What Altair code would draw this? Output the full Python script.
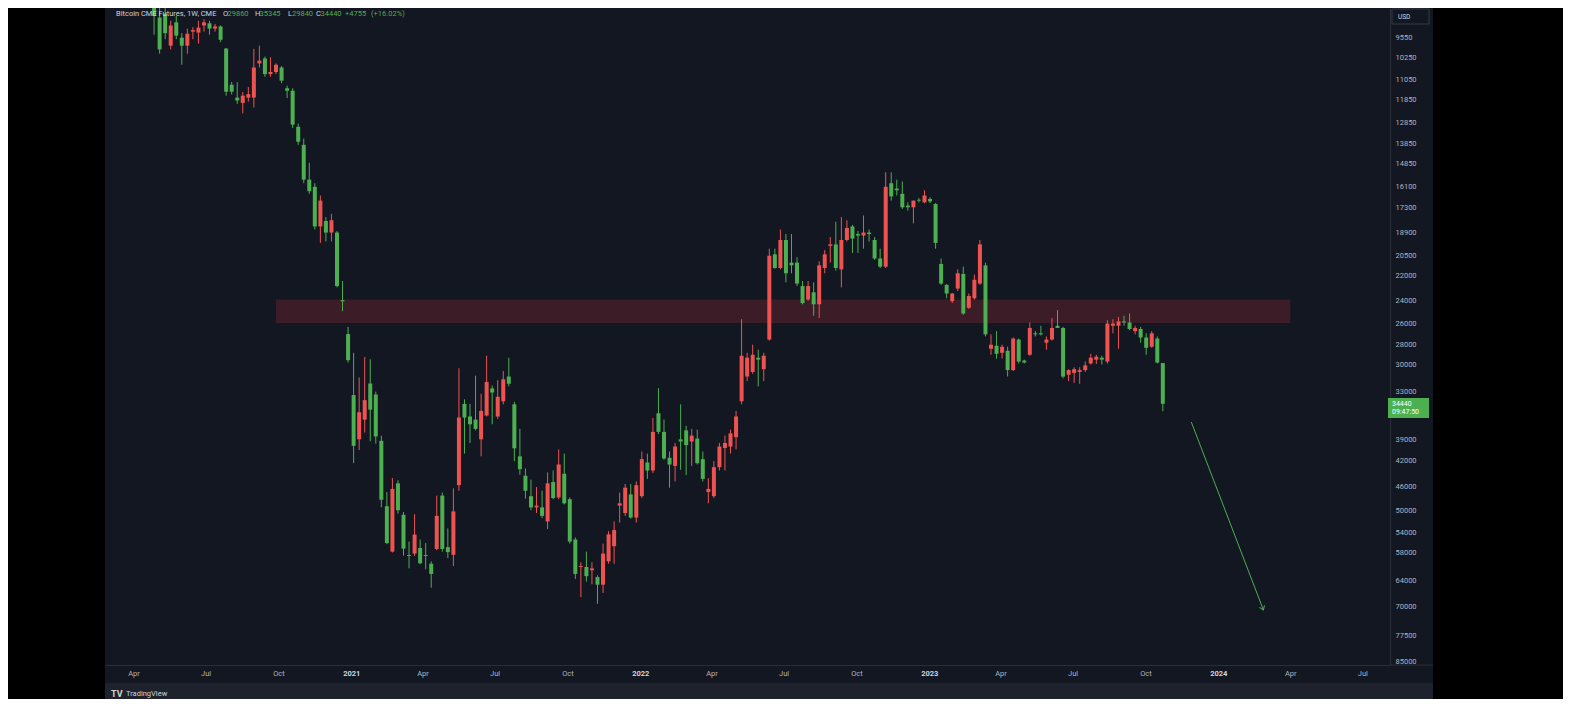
import altair as alt
import pandas as pd

BG = "#131722"
GREEN = "#4caf50"
RED = "#ef5350"
LINE = "#2a2e39"
TXT = "#b2b5be"
TXT_HI = "#d1d4dc"
FONT = "Roboto"

# ---- weekly OHLC (Bitcoin CME futures, 1W) ----
OPEN_2020 = [7750, 8900, 8780, 9820, 9050, 9550, 9820, 9350, 9380, 9150, 9080, 9250, 9180, 9920,
             11260, 11780, 12000, 11780, 11780, 10450, 10270, 10850, 10770, 10600, 11400, 11500,
             13050, 13900, 15700, 16100, 18500, 18150, 18900, 18900, 23950, 26970]
HIGH_2020 = [9450, 10100, 9600, 9950, 9600, 10500, 10100, 9600, 9750, 9350, 9450, 9350, 9700, 11700,
             11650, 12040, 12450, 11950, 12200, 10600, 10950, 10950, 10850, 11200, 11800, 13100,
             13900, 15900, 16500, 18700, 19600, 19500, 19500, 22900, 24900, 29800]
LOW_2020 = [7700, 8600, 8300, 9000, 8850, 9400, 9250, 9200, 9000, 8950, 9000, 9100, 9150, 9900,
            11150, 11160, 11550, 11350, 9930, 9820, 10200, 10230, 10450, 10550, 11300, 11400,
            12900, 13600, 14800, 15900, 16600, 17900, 17700, 18800, 22400, 26300]
CLOSE_2020 = [8850, 9950, 9400, 9150, 9480, 9820, 9420, 9300, 9220, 9050, 9250, 9180, 9620, 11540,
              11540, 11900, 11700, 11640, 10600, 10350, 10850, 10770, 10500, 11100, 11500, 12950,
              13750, 15700, 16350, 18500, 16900, 18900, 18100, 22800, 24050, 29560]

OPEN_2021 = [33400, 39000, 36400, 32070, 33340, 39200, 49300, 57800, 45500, 50800, 58500, 58200, 57070,
             58500, 60300, 57260, 47500, 56900, 58450, 45790, 34450, 36000, 36400, 39000, 35870, 32630,
             36000, 34130, 31300, 34500, 41400, 44300, 47600, 49500, 49500, 52000, 45300, 47800, 44000,
             48100, 55400, 61000, 61000, 61700, 63200, 64900, 59800, 56700, 49200, 50500, 47300, 51300]
HIGH_2021 = [42400, 40500, 38090, 39280, 39600, 49500, 56300, 58000, 50600, 58600, 61300, 58700, 60400,
             61500, 65600, 57500, 57800, 59100, 60800, 46700, 41000, 39500, 37800, 41400, 36000, 37000,
             36300, 34500, 32400, 42100, 44150, 48000, 50000, 50500, 51400, 53400, 48100, 48100, 49000,
             56200, 63600, 67800, 64200, 64800, 69400, 66800, 60300, 60300, 52200, 51000, 51500, 52200]
LOW_2021 = [28800, 31400, 29230, 29460, 33000, 38500, 46900, 44680, 45000, 50300, 55800, 50700, 55400,
            56100, 59800, 47500, 47000, 53300, 46300, 30400, 33900, 34450, 31200, 33250, 29100, 32300,
            31700, 30700, 29300, 34200, 37600, 43200, 44900, 46100, 46700, 43800, 43500, 40400, 41000,
            47800, 55000, 60000, 57800, 60000, 62800, 56200, 53800, 52000, 47000, 45600, 45600, 45200]
CLOSE_2021 = [39900, 35480, 34000, 35150, 38610, 48200, 56100, 46400, 50000, 57200, 58700, 54450, 60200,
              58700, 62500, 51000, 57260, 57900, 50200, 36130, 36130, 37000, 37600, 35300, 31900, 33100,
              33600, 31600, 32100, 40250, 43300, 46700, 49500, 49200, 51000, 45500, 47900, 42600, 48800,
              55800, 62500, 60800, 63000, 61300, 64900, 58200, 54400, 53600, 48800, 46200, 51300, 45800]

OPEN_2022 = [47600, 42300, 43500, 35600, 38000, 41600, 42800, 39000, 37800, 39300, 38900, 41800, 46900,
             47600, 43000, 40200, 40000, 38700, 34130, 31300, 30800, 29300, 30500, 27500, 20400, 21400,
             19400, 21000, 21000, 22800, 23900, 23300, 24300, 21400, 19800, 19700, 21500, 19400, 18500,
             19000, 19100, 18900, 19400, 20700, 21300, 15900, 16200, 16500, 17200, 17300, 16850, 17000]
HIGH_2022 = [47900, 44800, 43900, 38300, 41900, 46200, 45200, 43400, 44200, 42800, 42600, 45200, 48800,
             47900, 43500, 43500, 41000, 40400, 34500, 31800, 31000, 32400, 31800, 27600, 21450, 21500,
             22500, 21800, 22800, 24300, 24000, 25300, 25500, 21800, 21000, 21600, 22900, 19500, 20300,
             20300, 20000, 19500, 20800, 21400, 21400, 16900, 16600, 17400, 17500, 18300, 17000, 17050]
LOW_2022 = [40700, 41000, 36200, 32600, 36400, 40700, 39500, 34500, 37200, 37600, 37700, 40700, 44700,
            42100, 39500, 38500, 37700, 35300, 25600, 28800, 28000, 28500, 28800, 20000, 20000, 18700,
            19000, 19000, 20600, 22400, 22400, 22500, 20900, 20100, 19200, 18200, 17900, 18100, 18400,
            18800, 17800, 18700, 19200, 20000, 15300, 15300, 15700, 15800, 17000, 16900, 16750, 16300]
CLOSE_2022 = [41800, 43500, 38000, 38000, 41700, 42600, 40000, 39300, 39800, 38500, 42400, 44800, 46400,
              43000, 40000, 39500, 38200, 36000, 29100, 29300, 29000, 29500, 29100, 20500, 21400, 19400,
              21800, 21200, 22600, 24200, 22800, 24300, 21200, 20400, 19700, 21400, 19400, 18600, 19300,
              19100, 18900, 19000, 20700, 21300, 16100, 16650, 16300, 17300, 17300, 16900, 16900, 16600]

OPEN_2023 = [16800, 17100, 21100, 22700, 24030, 23000, 21850, 24600, 23800, 22600, 21200, 28400, 28100,
             28800, 28600, 30600, 27500, 29600, 29000, 26900, 26900, 27800, 27500, 26200, 26400, 31100,
             30900, 30800, 30600, 29900, 29500, 29300, 29700, 26200, 26200, 25800, 25900, 26700, 26500,
             27300, 28200, 27400, 29860]
HIGH_2023 = [17050, 20000, 22700, 23800, 24200, 23200, 25200, 24700, 23900, 22700, 27200, 29000, 29400,
             29400, 31300, 30700, 29900, 29900, 29100, 27200, 27100, 28500, 27600, 26400, 31500, 31800,
             32000, 32100, 30800, 30000, 29950, 30000, 29900, 26900, 28400, 26200, 26600, 27000, 27800,
             29000, 28300, 29900, 35345]
LOW_2023 = [16700, 17050, 20700, 22650, 23350, 21500, 21300, 23400, 21900, 19400, 21000, 27000, 26700,
            28000, 28200, 27300, 27400, 29500, 25900, 26700, 26200, 27200, 25500, 24800, 26300, 30500,
            30300, 30300, 29700, 28900, 29000, 29100, 25700, 25600, 25400, 25300, 25100, 26200, 26300,
            26900, 26700, 27200, 29840]
CLOSE_2023 = [16950, 19600, 22600, 23400, 23400, 21800, 25100, 23600, 22300, 19700, 27000, 28000, 28900,
              28200, 30600, 27400, 29700, 29800, 26400, 27000, 27000, 27500, 26400, 26400, 31300, 30600,
              30500, 30600, 30100, 29300, 29200, 29500, 26000, 26000, 25800, 25900, 26500, 26400, 27300,
              28300, 26900, 29800, 34440]

OPEN = OPEN_2020 + OPEN_2021 + OPEN_2022 + OPEN_2023
HIGH = HIGH_2020 + HIGH_2021 + HIGH_2022 + HIGH_2023
LOW = LOW_2020 + LOW_2021 + LOW_2022 + LOW_2023
CLOSE = CLOSE_2020 + CLOSE_2021 + CLOSE_2022 + CLOSE_2023
WEEKS = pd.date_range("2020-04-27", periods=len(OPEN), freq="7D").strftime("%Y-%m-%d").tolist()

PRICE_TICKS = [9550, 10250, 11050, 11850, 12850, 13850, 14850, 16100, 17300, 18900, 20500, 22000,
               24000, 26000, 28000, 30000, 33000, 39000, 42000, 46000, 50000, 54000, 58000, 64000,
               70000, 77500, 85000]
QUARTERS = [(2020, 4), (2020, 7), (2020, 10), (2021, 1), (2021, 4), (2021, 7), (2021, 10),
            (2022, 1), (2022, 4), (2022, 7), (2022, 10), (2023, 1), (2023, 4), (2023, 7),
            (2023, 10), (2024, 1), (2024, 4), (2024, 7)]

ZONE_START = ["2020-09-28"]
ZONE_END = ["2024-04-01"]
ZONE_LOW = [23900]
ZONE_HIGH = [25950]

ARROW_DATES = ["2023-11-28", "2024-02-27"]
ARROW_PRICES = [36710, 70900]

# ---- data frames ----
df = pd.DataFrame({"date": WEEKS, "open": OPEN, "high": HIGH, "low": LOW, "close": CLOSE})
df["high"] = df[["high", "open", "close"]].max(axis=1)
df["low"] = df[["low", "open", "close"]].min(axis=1)
df["dir"] = ["up" if c >= o else "down" for o, c in zip(df["open"], df["close"])]

zone_df = pd.DataFrame({"start": ZONE_START, "end": ZONE_END, "low": ZONE_LOW, "high": ZONE_HIGH})
arrow_df = pd.DataFrame({"date": ARROW_DATES, "price": ARROW_PRICES})

# ---- scales & axes ----
x_scale = alt.Scale(type="utc", padding=0,
                    domain=[alt.DateTime(year=2020, month=2, date=25, utc=True),
                            alt.DateTime(year=2024, month=8, date=4, hours=22, utc=True)])
y_scale = alt.Scale(type="log", domain=[8606, 85988], reverse=True, nice=False, zero=False)

YEAR_TEST = "utcmonth(datum.value) == 0"
x_axis = alt.Axis(
    values=[alt.DateTime(year=y, month=m, date=1, utc=True) for y, m in QUARTERS],
    labelExpr="utcmonth(datum.value) == 0 ? utcFormat(datum.value, '%Y') : utcFormat(datum.value, '%b')",
    title=None, ticks=False, grid=False, domainColor=LINE, domainWidth=1,
    labelColor={"condition": {"test": YEAR_TEST, "value": TXT_HI}, "value": TXT},
    labelFontWeight={"condition": {"test": YEAR_TEST, "value": "bold"}, "value": "normal"},
    labelFontSize=7.5, labelFont=FONT, labelPadding=4, labelOverlap=False, labelFlush=False,
)
y_axis = alt.Axis(
    orient="right", values=PRICE_TICKS, format="d", title=None, ticks=False, grid=False,
    domainColor=LINE, domainWidth=1, labelColor=TXT, labelFontSize=7.5, labelFont=FONT,
    labelAlign="left", labelBaseline="middle", labelPadding=5, labelOverlap=False, labelFlush=False,
)
color_enc = alt.Color("dir:N", scale=alt.Scale(domain=["up", "down"], range=[GREEN, RED]), legend=None)

zone = alt.Chart(zone_df).mark_rect(color="#f23645", opacity=0.18, clip=True).encode(
    x=alt.X("start:T", scale=x_scale, axis=x_axis), x2="end:T",
    y=alt.Y("low:Q", scale=y_scale, axis=y_axis), y2="high:Q",
)
wicks = alt.Chart(df).mark_rule(strokeWidth=1, clip=True).encode(
    x=alt.X("date:T", scale=x_scale, axis=x_axis),
    y=alt.Y("low:Q", scale=y_scale, axis=y_axis), y2="high:Q", color=color_enc,
)
bodies = alt.Chart(df).mark_bar(size=4, clip=True).encode(
    x=alt.X("date:T", scale=x_scale, axis=x_axis),
    y=alt.Y("open:Q", scale=y_scale, axis=y_axis), y2="close:Q", color=color_enc,
)
arrow = alt.Chart(arrow_df).mark_line(color=GREEN, strokeWidth=1, clip=True).encode(
    x=alt.X("date:T", scale=x_scale, axis=x_axis),
    y=alt.Y("price:Q", scale=y_scale, axis=y_axis),
)
head = alt.Chart(arrow_df.tail(1)).mark_point(
    shape="M -0.7 -1 L 0 0 L 0.7 -1", filled=False, color=GREEN, strokeWidth=1,
    size=60, angle=338.7, opacity=1, clip=False,
).encode(
    x=alt.X("date:T", scale=x_scale, axis=x_axis),
    y=alt.Y("price:Q", scale=y_scale, axis=y_axis),
)

ONE = pd.DataFrame({"k": [0]})


def box(x, x2, y, y2, fill, stroke=None):
    kw = dict(color=fill, clip=False)
    if stroke:
        kw = dict(fill=fill, stroke=stroke, strokeWidth=1, clip=False)
    return alt.Chart(ONE).mark_rect(**kw).encode(
        x=alt.value(x), x2=alt.value(x2), y=alt.value(y), y2=alt.value(y2))


def label(txt, x, y, color, size=7.5, weight="normal", align="left"):
    return alt.Chart(ONE).mark_text(
        text=txt, align=align, baseline="middle", color=color, fontSize=size,
        fontWeight=weight, font=FONT, clip=False,
    ).encode(x=alt.value(x), y=alt.value(y))


frame = [
    box(-97, 0, -8, 700, "#000000"),
    box(1328, 1460, -8, 700, "#000000"),
    box(0, 1328, 675, 700, "#1e222d"),
    alt.Chart(ONE).mark_rule(color=LINE, clip=False).encode(
        x=alt.value(1285), x2=alt.value(1328), y=alt.value(657)),
    box(1287, 1324, 1, 16, BG, stroke="#363a45"),
    label("USD", 1293, 8.5, TXT_HI, 6.5),
    box(1283, 1324, 390, 410, GREEN),
    label("34440", 1287, 395.5, "#ffffff", 7),
    label("09:47:50", 1287, 404, "#ffffff", 7),
    label("TV", 6, 686, TXT_HI, 9, "bold"),
    label("TradingView", 21, 686, TXT_HI, 7.5),
    label("Bitcoin CME Futures, 1W, CME", 11, 6, TXT_HI),
    label("O", 118, 6, TXT_HI), label("29860", 122.5, 6, GREEN),
    label("H", 150, 6, TXT_HI), label("35345", 154.5, 6, GREEN),
    label("L", 183, 6, TXT_HI), label("29840", 187, 6, GREEN),
    label("C", 211, 6, TXT_HI), label("34440", 215.5, 6, GREEN),
    label("+4755", 240, 6, GREEN), label("(+16.02%)", 266, 6, GREEN),
]

chart = alt.layer(zone, wicks, bodies, arrow, head, *frame).properties(
    width=1285, height=657, background=BG,
    padding={"left": 97, "top": 0, "right": 173, "bottom": 34},
    autosize=alt.AutoSizeParams(type="none"),
).configure_view(stroke=None)

chart.save("out.html", embed_options={"renderer": "svg", "actions": False})
